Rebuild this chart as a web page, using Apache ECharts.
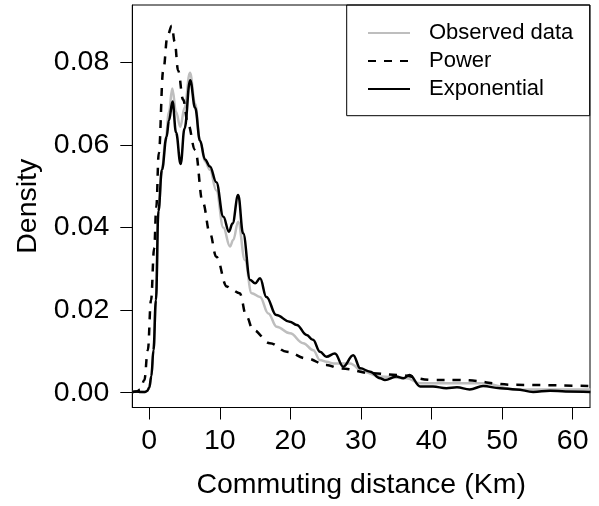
<!DOCTYPE html>
<html>
<head>
<meta charset="utf-8">
<script src="https://cdn.jsdelivr.net/npm/echarts@6/dist/echarts.min.js"></script>
<style>
html,body{margin:0;padding:0;background:#fff;}
#c{width:599px;height:506px;}
</style>
</head>
<body>
<div id="c"></div>
<script>
// ---- data ----
var seriesNames = ['Observed data', 'Power', 'Exponential'];
var xTicks = [0, 10, 20, 30, 40, 50, 60];
var yTicks = [0, 0.02, 0.04, 0.06, 0.08];

var obsX = [-2.4, -1.8, -0.6, -0.3, 0, 0.3, 0.6, 0.95, 1.3, 1.8, 2.3, 2.8, 3.26, 3.8, 4.4, 5.0, 5.77, 6.5, 7.2, 7.9, 8.6, 9.5, 10.5, 11.44, 11.9, 12.6, 13.56, 14.51, 15.69, 16.87, 18.05, 19.94, 21.82, 23.24, 24.19, 25.14, 26.07, 28.44, 30.33, 32.69, 36.47, 38.36, 43.56, 47.33, 52.06, 56, 62.5];
var obsY = [0.0002, 0.0003, 0.0002, 0.0004, 0.0012, 0.004, 0.0103, 0.0224, 0.044, 0.054, 0.061, 0.068, 0.0737, 0.068, 0.0644, 0.069, 0.0775, 0.070, 0.061, 0.056, 0.054, 0.049, 0.040, 0.0354, 0.037, 0.0414, 0.0321, 0.0241, 0.0232, 0.0192, 0.016, 0.0144, 0.012, 0.0103, 0.0079, 0.0075, 0.0071, 0.0071, 0.0051, 0.0039, 0.0035, 0.0023, 0.0023, 0.0023, 0.0007, 0.0008, 0.0008];

var powX = [-2.4, -1.8, -1.3, -0.7, -0.2, 0.25, 0.7, 1.0, 1.35, 1.98, 2.6, 3.2, 3.6, 4.1, 4.8, 5.5, 6.5, 7.6, 8.6, 9.5, 11.0, 11.7, 12.8, 13.8, 14.7, 17.1, 19.5, 22.3, 25.1, 27.0, 31.7, 35.1, 40.2, 43.6, 52.0, 62.5];
var powY = [0.0002, 0.0003, 0.0007, 0.003, 0.0103, 0.0224, 0.035, 0.045, 0.058, 0.078, 0.0865, 0.0889, 0.085, 0.078, 0.071, 0.065, 0.0588, 0.046, 0.0386, 0.0329, 0.0257, 0.0249, 0.0241, 0.0184, 0.0152, 0.012, 0.0099, 0.0083, 0.0067, 0.0059, 0.0047, 0.0043, 0.0031, 0.0031, 0.0019, 0.0016];

var expX = [-2.4, -1.8, -1.2, -0.6, -0.3, 0, 0.3, 0.6, 0.95, 1.3, 1.8, 2.46, 2.8, 3.3, 3.8, 4.45, 5.0, 5.8, 6.5, 7.2, 7.9, 8.6, 9.5, 10.5, 11.3, 11.8, 12.6, 13.3, 14.3, 15.0, 15.7, 16.6, 18.0, 19.9, 20.9, 22.3, 23.2, 24.2, 25.1, 26.3, 27.5, 28.9, 29.9, 31.3, 32.7, 33.4, 35.0, 36.0, 36.9, 38.4, 40.2, 42.1, 43.6, 45.4, 47.3, 49.7, 52.0, 54.4, 56.8, 59, 62.5];
var expY = [0.0002, 0.0003, 0.0002, 0.0002, 0.0004, 0.0012, 0.004, 0.0103, 0.0224, 0.044, 0.054, 0.062, 0.066, 0.0705, 0.063, 0.0554, 0.064, 0.0757, 0.069, 0.061, 0.0565, 0.0548, 0.051, 0.0426, 0.039, 0.041, 0.0479, 0.0386, 0.0273, 0.0265, 0.0277, 0.0232, 0.0188, 0.0172, 0.0164, 0.014, 0.0128, 0.0099, 0.0087, 0.0095, 0.0063, 0.0091, 0.0059, 0.0051, 0.0035, 0.0031, 0.0039, 0.0035, 0.0043, 0.0015, 0.0015, 0.0011, 0.0013, 0.0008, 0.0016, 0.0011, 0.0008, 0.0002, 0.0005, 0.0003, 0.0002];

function pairs(xs, ys) { return xs.map(function (x, i) { return [x, ys[i]]; }); }

var FONT = '"Liberation Sans", Arial, Helvetica, sans-serif';
var FS = 28.5;
var chart = echarts.init(document.getElementById('c'), null, {renderer: 'canvas'});
var option = {
  animation: false,
  backgroundColor: '#fff',
  textStyle: {fontFamily: FONT, color: '#000'},
  grid: {left: 132.3, right: 9, top: 5, bottom: 98.5, show: true, borderColor: '#000', borderWidth: 1, backgroundColor: 'transparent'},
  legend: {
    orient: 'vertical', left: 367, top: 22, padding: 0,
    itemWidth: 42, itemHeight: 22, itemGap: 6,
    data: seriesNames,
    itemStyle: {color: 'rgba(0,0,0,0)', borderWidth: 0},
    textStyle: {fontFamily: FONT, fontSize: 22, color: '#000', lineHeight: 22, padding: [0, 0, 0, 14]}
  },
  graphic: [{type: 'rect', shape: {x: 346.7, y: 5, width: 243, height: 110.7}, style: {fill: 'none', stroke: '#000', lineWidth: 1}, silent: true, z: 100}],
  xAxis: {
    type: 'value', min: -2.4, max: 62.45,
    name: 'Commuting distance (Km)', nameLocation: 'middle', nameGap: 63,
    nameTextStyle: {fontFamily: FONT, fontSize: FS, color: '#000'},
    axisLine: {show: true, onZero: false, lineStyle: {color: '#000', width: 1}},
    axisTick: {show: true, inside: false, length: 12, lineStyle: {color: '#000', width: 1}, customValues: xTicks},
    axisLabel: {fontFamily: FONT, fontSize: FS, color: '#000', margin: 19, customValues: xTicks, formatter: function (v) { return String(v); }},
    splitLine: {show: false}
  },
  yAxis: {
    type: 'value', min: -0.00358, max: 0.0939,
    name: 'Density', nameLocation: 'middle', nameGap: 90, nameRotate: 90,
    nameTextStyle: {fontFamily: FONT, fontSize: FS, color: '#000'},
    axisLine: {show: true, onZero: false, lineStyle: {color: '#000', width: 1}},
    axisTick: {show: true, inside: false, length: 12, lineStyle: {color: '#000', width: 1}, customValues: yTicks},
    axisLabel: {fontFamily: FONT, fontSize: FS, color: '#000', margin: 23, customValues: yTicks, formatter: function (v) { return v.toFixed(2); }},
    splitLine: {show: false}
  },
  series: [
    {name: seriesNames[0], type: 'line', data: pairs(obsX, obsY), showSymbol: false, symbol: 'none', smooth: 0.4, smoothMonotone: 'x', color: '#BEBEBE', lineStyle: {color: '#BEBEBE', width: 2.5}},
    {name: seriesNames[1], type: 'line', data: pairs(powX, powY), showSymbol: false, symbol: 'none', smooth: 0.4, smoothMonotone: 'x', color: '#000', lineStyle: {color: '#000', width: 2.5, type: [8, 8]}},
    {name: seriesNames[2], type: 'line', data: pairs(expX, expY), showSymbol: false, symbol: 'none', smooth: 0.4, smoothMonotone: 'x', color: '#000', lineStyle: {color: '#000', width: 2.5}}
  ]
};
chart.setOption(option);
</script>
</body>
</html>
